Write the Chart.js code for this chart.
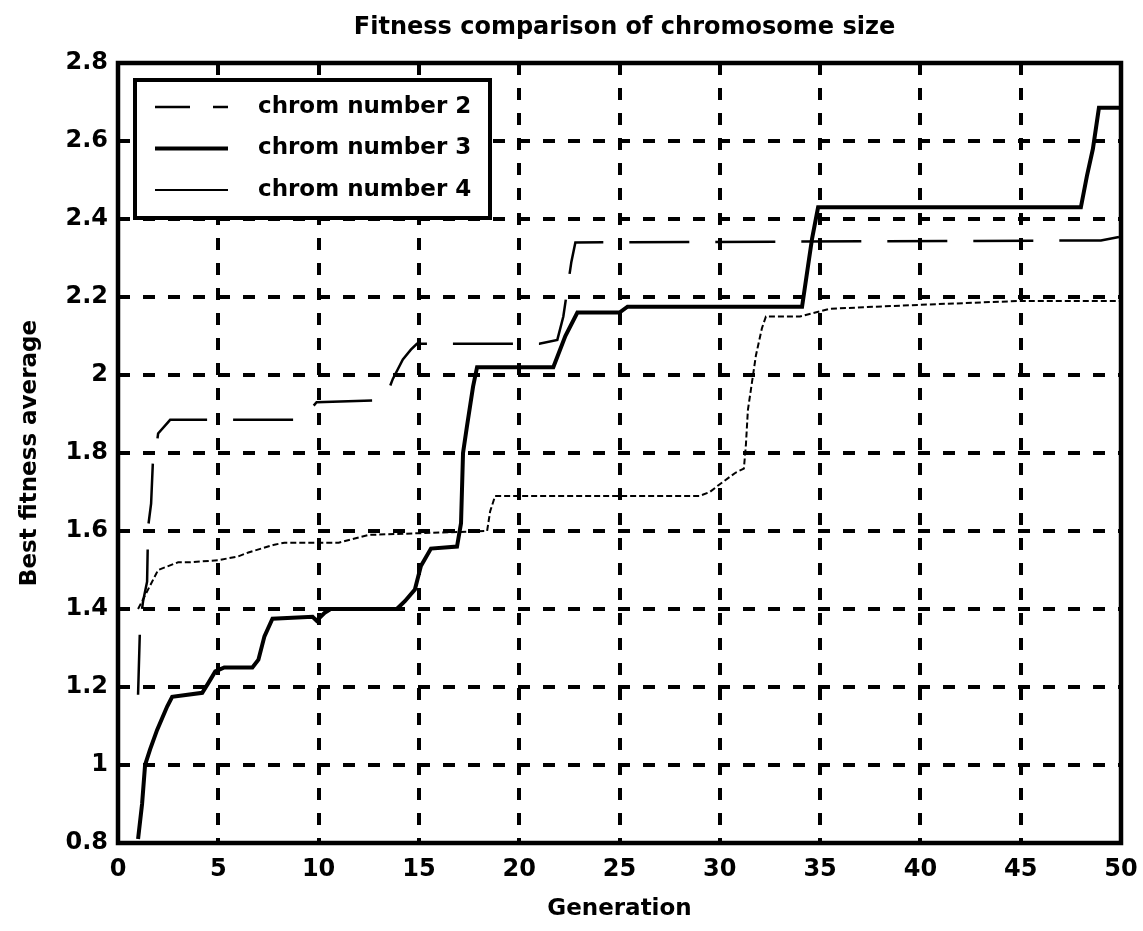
<!DOCTYPE html>
<html>
<head>
<meta charset="utf-8">
<title>Fitness comparison of chromosome size</title>
<script src="https://cdn.jsdelivr.net/npm/chart.js@4.4.1/dist/chart.umd.min.js"></script>
<style>
  html, body { margin: 0; padding: 0; background: #fff; }
  canvas { display: block; }
</style>
</head>
<body>
<canvas id="fitnessChart" width="1143" height="931"></canvas>
<script>
const chartTitle = 'Fitness comparison of chromosome size';
const seriesLabels = ['chrom number 2', 'chrom number 3', 'chrom number 4'];

// x ticks (generation) and y ticks (best fitness average)
const xTicks = [0, 5, 10, 15, 20, 25, 30, 35, 40, 45, 50];
const yTicks = [0.8, 1, 1.2, 1.4, 1.6, 1.8, 2, 2.2, 2.4, 2.6, 2.8];
const yTickLabels = ['0.8', '1', '1.2', '1.4', '1.6', '1.8', '2', '2.2', '2.4', '2.6', '2.8'];

// chrom number 2 (dashed)
const gen2 = [1, 1.1, 1.25, 1.45, 1.5, 1.65, 1.75, 1.9, 2.0, 2.6, 8.9, 9.4, 9.9, 12.9, 13.4, 13.7, 14.2, 14.6, 14.9, 21.0, 21.9, 22.2, 22.4, 22.6, 22.8, 49.0, 50];
const fit2 = [1.18, 1.36, 1.42, 1.47, 1.61, 1.67, 1.79, 1.81, 1.85, 1.885, 1.885, 1.90, 1.93, 1.935, 1.95, 1.99, 2.04, 2.065, 2.08, 2.08, 2.09, 2.15, 2.22, 2.29, 2.34, 2.345, 2.355];

// chrom number 3 (solid)
const gen3 = [1, 1.2, 1.35, 1.6, 1.95, 2.2, 2.45, 2.7, 4.2, 4.5, 4.85, 5.3, 6.7, 7.0, 7.3, 7.7, 9.7, 9.9, 10.3, 10.6, 13.9, 14.3, 14.8, 15.1, 15.6, 16.9, 17.1, 17.2, 17.4, 17.7, 17.9, 21.7, 22.3, 22.9, 25.0, 25.4, 34.1, 34.4, 34.6, 34.9, 48.0, 48.3, 48.6, 48.9, 50];
const fit3 = [0.81, 0.90, 1.00, 1.04, 1.09, 1.12, 1.15, 1.175, 1.185, 1.21, 1.24, 1.25, 1.25, 1.27, 1.33, 1.375, 1.38, 1.37, 1.39, 1.40, 1.40, 1.42, 1.45, 1.51, 1.555, 1.56, 1.62, 1.80, 1.87, 1.97, 2.02, 2.02, 2.10, 2.16, 2.16, 2.175, 2.175, 2.28, 2.35, 2.43, 2.43, 2.51, 2.58, 2.685, 2.685];

// chrom number 4 (thin)
const gen4 = [1, 2.0, 3.0, 3.6, 5.0, 6.0, 6.5, 7.8, 8.3, 11.0, 12.5, 18.4, 18.55, 18.8, 29.0, 29.5, 30.0, 30.8, 31.2, 31.3, 31.4, 31.8, 32.1, 32.3, 34.0, 35.5, 40.0, 45.0, 50];
const fit4 = [1.40, 1.50, 1.52, 1.52, 1.525, 1.535, 1.545, 1.565, 1.57, 1.57, 1.59, 1.60, 1.65, 1.69, 1.69, 1.70, 1.72, 1.75, 1.76, 1.82, 1.91, 2.05, 2.12, 2.15, 2.15, 2.17, 2.18, 2.19, 2.19];

const FONT = '"DejaVu Sans", "Liberation Sans", sans-serif';
Chart.defaults.font.family = FONT;
Chart.defaults.color = '#000';

function toPoints(xs, ys) {
  return xs.map((x, i) => ({ x: x, y: ys[i] }));
}

// axes box, title and the boxed legend inside the plot
const matlabFrame = {
  id: 'matlabFrame',
  afterDraw(chart) {
    const ctx = chart.ctx;
    const a = chart.chartArea;
    ctx.save();
    ctx.strokeStyle = '#000';
    ctx.lineWidth = 4.5;
    ctx.strokeRect(a.left, a.top, a.right - a.left, a.bottom - a.top);

    ctx.fillStyle = '#000';
    ctx.font = 'bold 24px ' + FONT;
    ctx.textAlign = 'center';
    ctx.textBaseline = 'middle';
    ctx.fillText(chartTitle, (a.left + a.right) / 2 + 5, 28);

    ctx.lineWidth = 4;
    const bx = a.left + 17, by = a.top + 17, bw = 355, bh = 138;
    ctx.fillStyle = '#fff';
    ctx.fillRect(bx, by, bw, bh);
    ctx.strokeRect(bx, by, bw, bh);

    chart.data.datasets.forEach((ds, i) => {
      const y = by + 27 + i * 41.5;
      ctx.beginPath();
      ctx.setLineDash(ds.legendDash || []);
      ctx.lineWidth = ds.borderWidth;
      ctx.strokeStyle = ds.borderColor;
      ctx.moveTo(bx + 20, y);
      ctx.lineTo(bx + 93, y);
      ctx.stroke();
      ctx.setLineDash([]);
      ctx.fillStyle = '#000';
      ctx.textAlign = 'left';
      ctx.font = 'bold 23px ' + FONT;
      ctx.fillText(ds.label, bx + 123, y);
    });
    ctx.restore();
  }
};

new Chart(document.getElementById('fitnessChart'), {
  type: 'line',
  data: {
    datasets: [{
      label: seriesLabels[0],
      data: toPoints(gen2, fit2),
      borderColor: '#000',
      borderWidth: 2.5,
      borderDash: [60, 26],
      legendDash: [35, 23]
    }, {
      label: seriesLabels[1],
      data: toPoints(gen3, fit3),
      borderColor: '#000',
      borderWidth: 4
    }, {
      label: seriesLabels[2],
      data: toPoints(gen4, fit4),
      borderColor: '#000',
      borderWidth: 2,
      borderDash: [6, 3],
      legendDash: []
    }]
  },
  options: {
    responsive: false,
    animation: false,
    devicePixelRatio: 1,
    elements: {
      point: { radius: 0 },
      line: { tension: 0, fill: false }
    },
    layout: { padding: { top: 63, right: 22, bottom: 4, left: 8 } },
    plugins: {
      legend: { display: false },
      tooltip: { enabled: false }
    },
    scales: {
      x: {
        type: 'linear',
        min: 0,
        max: 50,
        afterBuildTicks: (scale) => { scale.ticks = xTicks.map(v => ({ value: v })); },
        afterFit: (scale) => {
          scale.height = 84;
          scale.paddingLeft = 0;
          scale.paddingRight = 0;
        },
        grid: { color: '#000', lineWidth: 4, drawTicks: false },
        border: { display: false, dash: [12, 13] },
        ticks: {
          autoSkip: false,
          maxRotation: 0,
          padding: 12,
          font: { size: 24, weight: 'bold' },
          callback: (v) => String(v)
        },
        title: {
          display: true,
          text: 'Generation',
          font: { size: 23, weight: 'bold' },
          padding: { top: 0, bottom: 4 }
        }
      },
      y: {
        type: 'linear',
        min: 0.8,
        max: 2.8,
        afterBuildTicks: (scale) => { scale.ticks = yTicks.map(v => ({ value: v })); },
        afterFit: (scale) => { scale.width = 110; },
        grid: { color: '#000', lineWidth: 4, drawTicks: false },
        border: { display: false, dash: [12, 13] },
        ticks: {
          padding: 10,
          font: { size: 24, weight: 'bold' },
          callback: (v, i) => yTickLabels[i]
        },
        title: {
          display: true,
          text: 'Best fitness average',
          font: { size: 23, weight: 'bold' },
          padding: { top: 8, bottom: 0 }
        }
      }
    }
  },
  plugins: [matlabFrame]
});
</script>
</body>
</html>
